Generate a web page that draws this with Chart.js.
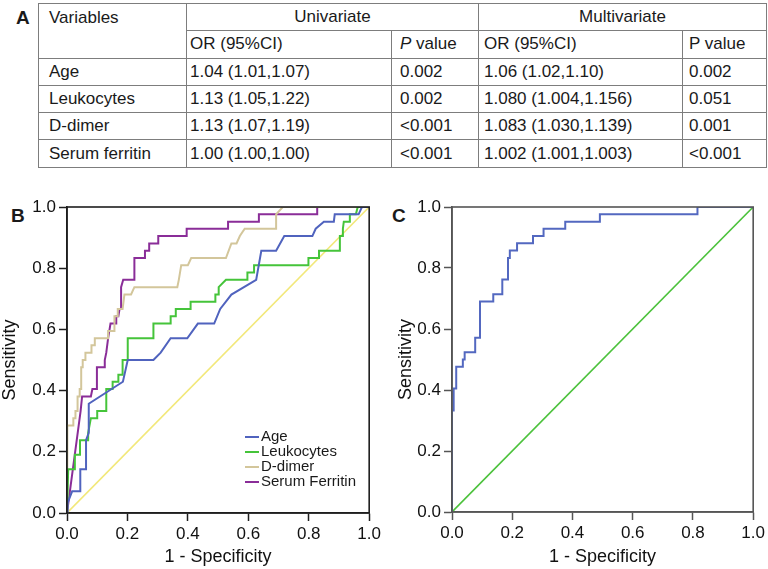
<!DOCTYPE html>
<html><head><meta charset="utf-8">
<script src="https://cdn.jsdelivr.net/npm/chart.js@4.4.0/dist/chart.umd.min.js"></script>
<style>
html,body{margin:0;padding:0;background:#fff;}
body{width:768px;height:569px;position:relative;overflow:hidden;font-family:"Liberation Sans",Arial,sans-serif;color:#1a1a1a;}
.panel{position:absolute;font-weight:bold;font-size:19px;line-height:19px;}
table{position:absolute;left:38px;top:3px;border-collapse:collapse;table-layout:fixed;font-size:17px;}
td{border:1px solid #7d7d7d;padding:0 0 0 6px;white-space:nowrap;overflow:hidden;}
tr{height:27.3px;}
td.c{text-align:center;padding:0;}
.cv{position:absolute;top:190px;}
#legB{position:absolute;left:245px;top:428px;font-size:15px;line-height:15px;}
#legB div{white-space:nowrap;}
#legB span.l{display:inline-block;width:14px;height:2px;vertical-align:middle;margin-right:2px;}
</style></head>
<body>
<div class="panel" style="left:16px;top:8px;">A</div>
<div class="panel" style="left:11px;top:206px;">B</div>
<div class="panel" style="left:392px;top:206px;">C</div>
<table id="tbl">
<colgroup><col style="width:148px"><col style="width:205px"><col style="width:87px"><col style="width:204px"><col style="width:84px"></colgroup>
<tbody id="tb"></tbody>
</table>
<canvas id="cB" class="cv" width="384" height="379" style="left:0;"></canvas>
<canvas id="cC" class="cv" width="384" height="379" style="left:384px;"></canvas>
<div id="legB"></div>
<script>
// ---- Table data ----
const variables = ['Age', 'Leukocytes', 'D-dimer', 'Serum ferritin'];
const uniOR = ['1.04 (1.01,1.07)', '1.13 (1.05,1.22)', '1.13 (1.07,1.19)', '1.00 (1.00,1.00)'];
const uniP = ['0.002', '0.002', '<0.001', '<0.001'];
const multiOR = ['1.06 (1.02,1.10)', '1.080 (1.004,1.156)', '1.083 (1.030,1.139)', '1.002 (1.001,1.003)'];
const multiP = ['0.002', '0.051', '0.001', '<0.001'];

// ---- Tick labels ----
const tickLabels = ['0.0', '0.2', '0.4', '0.6', '0.8', '1.0'];

// ---- Panel B series ----
const ageX = [0, 0.002, 0.017, 0.044, 0.044, 0.063, 0.063, 0.072, 0.072, 0.185, 0.201, 0.286, 0.310, 0.343, 0.398, 0.433, 0.487, 0.507, 0.544, 0.626, 0.643, 0.692, 0.719, 0.812, 0.823, 0.850, 0.883, 0.886, 0.965, 0.976, 1];
const ageY = [0, 0.033, 0.071, 0.071, 0.143, 0.143, 0.238, 0.262, 0.357, 0.429, 0.5, 0.5, 0.524, 0.571, 0.571, 0.619, 0.619, 0.667, 0.714, 0.762, 0.857, 0.857, 0.905, 0.905, 0.929, 0.952, 0.952, 0.976, 0.976, 1, 1];

const leukX = [0, 0.004, 0.026, 0.026, 0.043, 0.043, 0.070, 0.070, 0.079, 0.100, 0.100, 0.130, 0.130, 0.151, 0.151, 0.170, 0.170, 0.184, 0.184, 0.201, 0.201, 0.286, 0.286, 0.343, 0.343, 0.360, 0.360, 0.409, 0.409, 0.491, 0.491, 0.502, 0.502, 0.526, 0.597, 0.597, 0.619, 0.619, 0.799, 0.799, 0.834, 0.834, 0.903, 0.903, 0.913, 0.913, 0.916, 0.936, 0.936, 0.956, 0.962, 1];
const leukY = [0, 0.143, 0.143, 0.190, 0.190, 0.238, 0.238, 0.262, 0.310, 0.310, 0.333, 0.333, 0.405, 0.405, 0.429, 0.429, 0.452, 0.452, 0.5, 0.5, 0.571, 0.571, 0.619, 0.619, 0.643, 0.643, 0.667, 0.667, 0.690, 0.690, 0.714, 0.714, 0.738, 0.762, 0.762, 0.786, 0.786, 0.810, 0.810, 0.833, 0.833, 0.857, 0.857, 0.905, 0.905, 0.929, 0.952, 0.952, 0.976, 0.976, 1, 1];

const ddX = [0, 0, 0.002, 0.021, 0.021, 0.028, 0.028, 0.035, 0.035, 0.042, 0.042, 0.047, 0.047, 0.052, 0.052, 0.061, 0.061, 0.081, 0.081, 0.092, 0.092, 0.136, 0.136, 0.157, 0.157, 0.168, 0.168, 0.184, 0.190, 0.212, 0.223, 0.365, 0.370, 0.378, 0.400, 0.411, 0.526, 0.544, 0.561, 0.572, 0.588, 0.692, 0.692, 0.714, 1];
const ddY = [0, 0.214, 0.286, 0.286, 0.310, 0.310, 0.333, 0.333, 0.381, 0.381, 0.405, 0.405, 0.476, 0.476, 0.5, 0.5, 0.524, 0.524, 0.548, 0.548, 0.571, 0.571, 0.595, 0.595, 0.643, 0.643, 0.667, 0.667, 0.714, 0.714, 0.738, 0.738, 0.762, 0.810, 0.810, 0.833, 0.833, 0.881, 0.881, 0.905, 0.929, 0.929, 0.976, 1, 1];

const ferX = [0, 0.045, 0.050, 0.079, 0.084, 0.099, 0.099, 0.125, 0.125, 0.130, 0.136, 0.144, 0.163, 0.163, 0.170, 0.174, 0.179, 0.179, 0.186, 0.223, 0.223, 0.256, 0.258, 0.272, 0.272, 0.302, 0.302, 0.396, 0.396, 0.533, 0.533, 0.635, 0.635, 0.828, 0.828, 1];
const ferY = [0, 0.333, 0.381, 0.381, 0.405, 0.405, 0.476, 0.476, 0.5, 0.524, 0.571, 0.619, 0.619, 0.643, 0.643, 0.667, 0.667, 0.738, 0.762, 0.762, 0.833, 0.833, 0.857, 0.857, 0.881, 0.881, 0.905, 0.905, 0.929, 0.929, 0.952, 0.952, 0.976, 0.976, 1, 1];

const refX = [0, 1];
const refY = [0, 1];

// ---- Panel C series ----
const modelX = [0, 0, 0.0055, 0.0055, 0.014, 0.014, 0.036, 0.036, 0.042, 0.042, 0.077, 0.077, 0.093, 0.093, 0.137, 0.137, 0.167, 0.167, 0.186, 0.186, 0.192, 0.192, 0.216, 0.216, 0.269, 0.269, 0.304, 0.304, 0.376, 0.376, 0.491, 0.491, 0.815, 0.815, 1];
const modelY = [0, 0.333, 0.333, 0.405, 0.405, 0.476, 0.476, 0.5, 0.5, 0.524, 0.524, 0.571, 0.571, 0.690, 0.690, 0.714, 0.714, 0.762, 0.762, 0.833, 0.833, 0.857, 0.857, 0.881, 0.881, 0.905, 0.905, 0.929, 0.929, 0.952, 0.952, 0.976, 0.976, 1, 1];

// ---- Build table ----
(function(){
  const tb = document.getElementById('tb');
  let h = '<tr><td rowspan="2" style="vertical-align:top;padding-left:10px;padding-top:4px;">Variables</td>' +
          '<td colspan="2" class="c">Univariate</td><td colspan="2" class="c">Multivariate</td></tr>';
  h += '<tr><td style="padding-left:3px">OR (95%CI)</td><td style="padding-left:8px"><i>P</i> value</td>' +
       '<td style="padding-left:5px">OR (95%CI)</td><td style="padding-left:6px">P value</td></tr>';
  for (let i = 0; i < variables.length; i++) {
    h += '<tr><td style="padding-left:10px">' + variables[i] + '</td><td style="padding-left:3px">' + uniOR[i] +
         '</td><td style="padding-left:8px">' + uniP[i].replace('<','&lt;') + '</td><td style="padding-left:5px">' + multiOR[i] +
         '</td><td style="padding-left:6px">' + multiP[i].replace('<','&lt;') + '</td></tr>';
  }
  tb.innerHTML = h;
})();

const FONT = '"Liberation Sans", Arial, sans-serif';
const pts = (xs, ys) => xs.map((x, i) => ({x: x, y: ys[i]}));

const boxPlugin = {
  id: 'box',
  afterDatasetsDraw(chart, args, o) {
    const {ctx, chartArea: {left, top, right, bottom}} = chart;
    ctx.save();
    ctx.strokeStyle = o.color; ctx.lineWidth = o.width;
    ctx.strokeRect(left, top, right - left, bottom - top);
    ctx.restore();
  }
};

function ds(label, xs, ys, color, w) {
  return {label: label, data: pts(xs, ys), borderColor: color, backgroundColor: color, borderWidth: w,
          showLine: true, pointRadius: 0, tension: 0, fill: false};
}

function roc(id, datasets, axisColor, yw, xh, ytitlePad) {
  return new Chart(document.getElementById(id), {
    type: 'scatter',
    data: {datasets: datasets},
    options: {
      responsive: false, animation: false, devicePixelRatio: 1,
      layout: {padding: {top: 17, right: 12, left: 0, bottom: 0}},
      plugins: {legend: {display: false}, tooltip: {enabled: false}, box: {color: axisColor, width: 1.6}},
      scales: {
        x: {
          type: 'linear', min: 0, max: 1,
          afterFit: s => { s.height = xh; },
          ticks: {stepSize: 0.2, callback: (v, i) => tickLabels[i], color: '#111', font: {size: 17, family: FONT}, padding: 3, maxRotation: 0},
          grid: {drawOnChartArea: false, drawTicks: true, tickLength: 8, tickColor: axisColor, tickWidth: 1.5},
          border: {display: true, color: axisColor, width: 1.6},
          title: {display: true, text: '1 - Specificity', color: '#111', font: {size: 18, family: FONT, lineHeight: 1}, padding: {top: 0, bottom: 3}}
        },
        y: {
          type: 'linear', min: 0, max: 1,
          afterFit: s => { s.width = yw; },
          ticks: {stepSize: 0.2, callback: (v, i) => tickLabels[i], color: '#111', font: {size: 17, family: FONT}, padding: 3},
          grid: {drawOnChartArea: false, drawTicks: true, tickLength: 8, tickColor: axisColor, tickWidth: 1.5},
          border: {display: true, color: axisColor, width: 1.6},
          title: {display: true, text: 'Sensitivity', color: '#111', font: {size: 18, family: FONT, lineHeight: 1}, padding: {top: ytitlePad, bottom: 0}}
        }
      }
    },
    plugins: [boxPlugin]
  });
}

const bSets = [
  ds('Age', ageX, ageY, '#5063be', 2),
  ds('Leukocytes', leukX, leukY, '#45c43a', 2),
  ds('D-dimer', ddX, ddY, '#d3c69b', 2),
  ds('Serum Ferritin', ferX, ferY, '#8a2d98', 2),
  ds('Reference', refX, refY, '#f2e87a', 1.6)
];
const chartB = roc('cB', bSets, '#1e1e1e', 67, 56, 1);

const cSets = [
  ds('Model', modelX, modelY, '#5368c0', 2),
  ds('Reference', refX, refY, '#4cc23c', 1.6)
];
const chartC = roc('cC', cSets, '#555', 68, 57, 13);

// HTML legend for panel B from the chart's datasets
(function(){
  const leg = document.getElementById('legB');
  chartB.data.datasets.slice(0, 4).forEach(d => {
    const row = document.createElement('div');
    row.innerHTML = '<span class="l" style="background:' + d.borderColor + '"></span>' + d.label;
    leg.appendChild(row);
  });
})();
</script>
</body></html>
